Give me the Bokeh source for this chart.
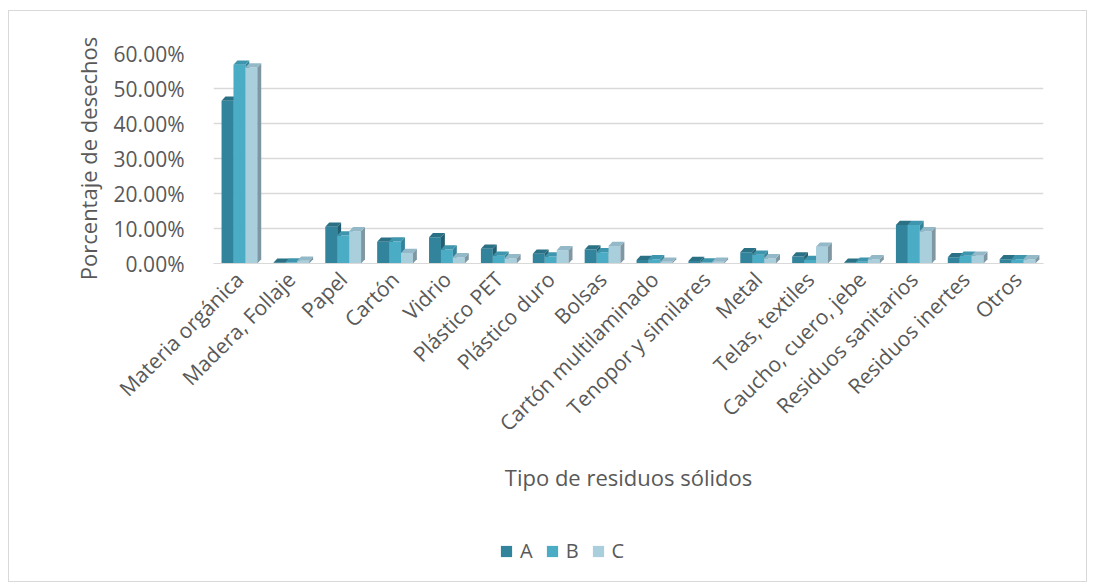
import math
from bokeh.plotting import figure
from bokeh.layouts import column
from bokeh.models import FixedTicker, NumeralTickFormatter, Legend, LegendItem, ColumnDataSource
from bokeh.embed import file_html
from bokeh.resources import INLINE

categories = ["Materia orgánica", "Madera, Follaje", "Papel", "Cartón", "Vidrio",
              "Plástico PET", "Plástico duro", "Bolsas", "Cartón multilaminado",
              "Tenopor y similares", "Metal", "Telas, textiles", "Caucho, cuero, jebe",
              "Residuos sanitarios", "Residuos inertes", "Otros"]
serie_a = [0.465, 0.002, 0.105, 0.062, 0.075, 0.042, 0.028, 0.040, 0.010, 0.007, 0.032, 0.020, 0.002, 0.110, 0.018, 0.012]
serie_b = [0.568, 0.003, 0.080, 0.063, 0.040, 0.022, 0.020, 0.032, 0.012, 0.003, 0.025, 0.010, 0.005, 0.110, 0.022, 0.012]
serie_c = [0.560, 0.008, 0.092, 0.030, 0.018, 0.015, 0.038, 0.050, 0.005, 0.005, 0.015, 0.048, 0.012, 0.092, 0.022, 0.012]
series_names = ["A", "B", "C"]
y_ticks = [0.0, 0.1, 0.2, 0.3, 0.4, 0.5, 0.6]

FONT = "Open Sans"
TXT = "#595959"
colors = ["#31849B", "#4BACC6", "#A9CEDC"]
top_colors = ["#2A7185", "#3D96AE", "#93B9C8"]
side_colors = ["#235F70", "#35839A", "#7E97A3"]

p = figure(width=1077, height=510, output_backend="svg", toolbar_location=None,
           x_range=(-0.5, len(categories) - 0.5), y_range=(0, 0.6),
           min_border_left=204, min_border_right=43, min_border_top=42, min_border_bottom=258)
p.outline_line_color = None
p.background_fill_color = "white"

bw = 0.23
dx = 0.075
dy = 0.012
offsets = [-bw, 0.0, bw]
series = [serie_a, serie_b, serie_c]
for k, vals in enumerate(series):
    xs = [i + offsets[k] for i in range(len(categories))]
    src = ColumnDataSource(dict(x=xs, top=vals))
    p.vbar(x="x", top="top", width=bw, source=src, fill_color=colors[k], line_color=None)
    # 3D side and top faces derived from the values
    side_x, side_y, top_x, top_y = [], [], [], []
    for x, v in zip(xs, vals):
        r_edge = x + bw / 2
        l_edge = x - bw / 2
        side_x.append([r_edge, r_edge + dx, r_edge + dx, r_edge])
        side_y.append([0, dy, v + dy, v])
        top_x.append([l_edge, r_edge, r_edge + dx, l_edge + dx])
        top_y.append([v, v, v + dy, v + dy])
    p.patches(side_x, side_y, fill_color=side_colors[k], line_color=None)
    p.patches(top_x, top_y, fill_color=top_colors[k], line_color=None)

p.xgrid.grid_line_color = None
p.ygrid.grid_line_color = "#D9D9D9"
p.ygrid.grid_line_width = 1.5
p.ygrid.ticker = FixedTicker(ticks=y_ticks)

p.yaxis.ticker = FixedTicker(ticks=y_ticks)
p.yaxis.formatter = NumeralTickFormatter(format="0.00%")
p.yaxis.axis_line_color = None
p.yaxis.major_tick_line_color = None
p.yaxis.minor_tick_line_color = None
p.yaxis.major_label_standoff = 23
p.yaxis.major_label_text_font = FONT
p.yaxis.major_label_text_font_size = "21px"
p.yaxis.major_label_text_color = TXT
p.yaxis.axis_label = "Porcentaje de desechos"
p.yaxis.axis_label_text_font = FONT
p.yaxis.axis_label_text_font_size = "22px"
p.yaxis.axis_label_text_font_style = "normal"
p.yaxis.axis_label_text_color = TXT
p.yaxis.axis_label_standoff = 8

p.xaxis.ticker = FixedTicker(ticks=list(range(len(categories))))
p.xaxis.major_label_overrides = {i: c for i, c in enumerate(categories)}
p.xaxis.major_label_orientation = math.pi / 4
p.xaxis.axis_line_color = "#D9D9D9"
p.xaxis.major_tick_line_color = None
p.xaxis.minor_tick_line_color = None
p.xaxis.major_label_standoff = 6
p.xaxis.major_label_text_font = FONT
p.xaxis.major_label_text_font_size = "21px"
p.xaxis.major_label_text_color = TXT
p.xaxis.axis_label = "Tipo de residuos sólidos"
p.xaxis.axis_label_text_font = FONT
p.xaxis.axis_label_text_font_size = "22px"
p.xaxis.axis_label_text_font_style = "normal"
p.xaxis.axis_label_text_color = TXT
p.xaxis.axis_label_standoff = 12

# legend strip below the chart
leg = figure(width=1077, height=60, output_backend="svg", toolbar_location=None,
             x_range=(0, 1), y_range=(0, 1), x_axis_location=None, y_axis_location=None,
             min_border=0)
leg.outline_line_color = None
leg.xgrid.grid_line_color = None
leg.ygrid.grid_line_color = None
leg_items = []
for k, n in enumerate(series_names):
    r = leg.vbar(x=[5], top=[0], width=0.1, fill_color=colors[k], line_color=None)
    leg_items.append(LegendItem(label=n, renderers=[r]))
legend = Legend(items=leg_items, orientation="horizontal", location=(286, 17),
                label_text_font=FONT, label_text_font_size="20px", label_text_color=TXT,
                glyph_width=14, glyph_height=14, spacing=12, label_standoff=7, label_width=0,
                border_line_color=None, background_fill_alpha=0, margin=0, padding=0)
leg.add_layout(legend, "center")

layout = column(p, leg, spacing=0)
layout.margin = (10, 8, 4, 8)
layout.styles = {"border": "1px solid #D9D9D9", "box-sizing": "border-box"}

open("out.html", "w").write(file_html(layout, INLINE))
